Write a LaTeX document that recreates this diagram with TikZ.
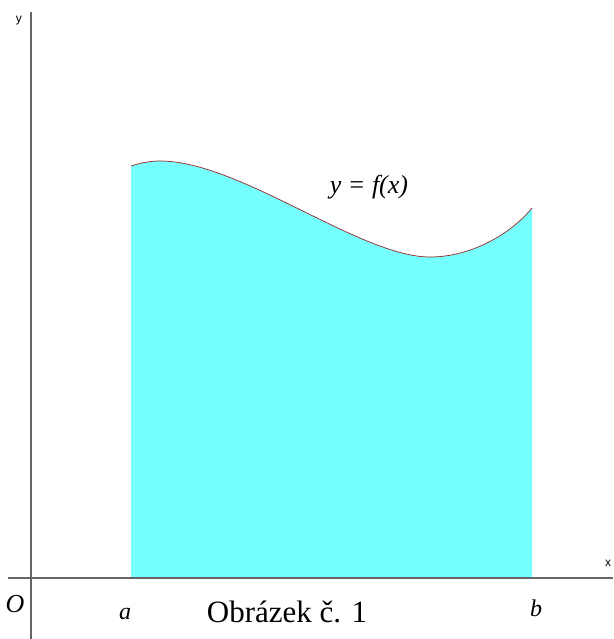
\documentclass[tikz,border=0pt]{standalone}
\usepackage{fontspec}
\setmainfont{Liberation Serif}
\newfontfamily\axfont{Liberation Sans}
\definecolor{fillc}{RGB}{118,255,255}
\definecolor{curvec}{RGB}{150,40,40}
\begin{document}
\begin{tikzpicture}[x=1pt,y=-1pt,
  axis/.style={draw=black!60,line width=1.2pt},
  curve/.style={draw=curvec,line width=0.7pt},
  lbl/.style={inner sep=0pt,font=\itshape\fontsize{24}{26}\selectfont},
  axlbl/.style={inner sep=0pt,font=\axfont\fontsize{12}{13}\selectfont}]
\useasboundingbox (0,0) rectangle (613,639);
\coordinate (p0) at (131,166);
\coordinate (p1) at (160,161);
\coordinate (p2) at (430,257);
\coordinate (p3) at (532,208);
\fill[fillc] (131,578) -- (p0) .. controls (140,163) and (150,161) .. (p1)
  .. controls (240,161) and (360,257) .. (p2)
  .. controls (470,257) and (510,235) .. (p3) -- (532,578) -- cycle;
\draw[curve] (p0) .. controls (140,163) and (150,161) .. (p1)
  .. controls (240,161) and (360,257) .. (p2)
  .. controls (470,257) and (510,235) .. (p3);
\coordinate (ytop) at (31,12);
\coordinate (ybot) at (31,639);
\coordinate (xl) at (8,578);
\coordinate (xr) at (613,578);
\draw[axis] (ybot) -- (ytop);
\draw[axis] (xl) -- (xr);
\node[axlbl] (ylab) at (19,21) {y};
\node[axlbl] (xlab) at (608,563) {x};
\node[lbl,font=\itshape\fontsize{26}{28}\selectfont] (O) at (15,604) {O};
\node[lbl] (a) at (125,614) {a};
\node[lbl] (b) at (536,608) {b};
\node[inner sep=0pt,font=\fontsize{31}{34}\selectfont] (cap) at (287,612) {Obrázek č. 1};
\node[lbl,font=\itshape\fontsize{26}{28}\selectfont] (f) at (369,187) {y = f(x)};
\end{tikzpicture}
\end{document}
